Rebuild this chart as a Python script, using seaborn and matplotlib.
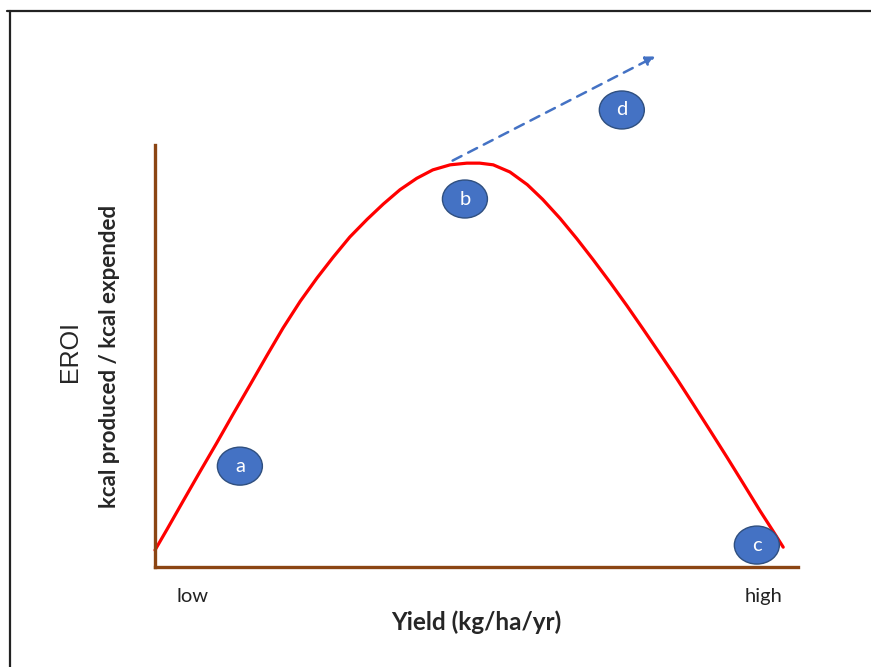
import numpy as np
import pandas as pd
import matplotlib
matplotlib.use('Agg')
import matplotlib.pyplot as plt
import seaborn as sns
from matplotlib.patches import Ellipse
from matplotlib.lines import Line2D

# curve (yield low -> high, EROI 0-100)
yield_pts = [0.0, 1.9, 4.4, 7.0, 9.6, 12.1, 14.8, 17.4, 19.9, 22.6, 25.2, 27.7,
             30.3, 33.0, 35.5, 38.1, 40.7, 43.2, 45.9, 48.5, 50.5, 52.6, 55.2,
             57.9, 60.3, 63.0, 65.6, 68.1, 70.8, 73.4, 75.9, 78.5, 81.2, 83.7,
             86.3, 89.0, 91.4, 94.1, 96.0, 97.7]
eroi_pts = [4.0, 9.0, 15.7, 22.6, 29.4, 36.1, 43.2, 50.1, 56.6, 63.0, 68.5, 73.4,
            78.2, 82.4, 86.0, 89.4, 92.1, 94.1, 95.3, 95.7, 95.7, 95.3, 93.6,
            90.6, 87.1, 82.6, 77.8, 72.9, 67.4, 61.9, 56.4, 50.6, 44.5, 38.6,
            32.4, 25.9, 20.0, 13.3, 8.8, 4.7]

# labelled points
point_labels = ['a', 'b', 'c', 'd']
point_x = [13.2, 48.2, 93.6, 72.6]
point_y = [23.9, 87.2, 5.2, 108.3]

# dashed trend arrow (start, end)
arrow_x = [45.9, 78.2]
arrow_y = [96.0, 121.3]

df = pd.DataFrame({'yield': yield_pts, 'eroi': eroi_pts})

sns.set_style('white')
plt.rcParams['font.family'] = ['Lato', 'DejaVu Sans']

fig = plt.figure(figsize=(8.71, 6.67), dpi=100)
ax = fig.add_axes([155 / 871, 100 / 667, 643 / 871, 422 / 667])

sns.lineplot(data=df, x='yield', y='eroi', color='#FF0000', linewidth=2.3, ax=ax,
             sort=False, clip_on=False, solid_joinstyle='round', solid_capstyle='round')

ax.annotate('', xy=(arrow_x[1], arrow_y[1]), xytext=(arrow_x[0], arrow_y[0]),
            arrowprops=dict(arrowstyle='-|>', color='#4472C4', lw=1.8,
                            linestyle=(0, (4, 3)), mutation_scale=14),
            annotation_clip=False)

for lab, px, py in zip(point_labels, point_x, point_y):
    e = Ellipse((px, py), width=7.0, height=9.0, facecolor='#4472C4',
                edgecolor='#2F4F7F', linewidth=1.0, clip_on=False, zorder=5)
    ax.add_patch(e)
    ax.text(px, py, lab, color='white', fontsize=14.5, ha='center', va='center',
            zorder=6, clip_on=False)

ax.set_xlim(0, 100)
ax.set_ylim(0, 100)
ax.set_xticks([])
ax.set_yticks([])
sns.despine(ax=ax)
for s in ['left', 'bottom']:
    ax.spines[s].set_color('#8B4513')
    ax.spines[s].set_linewidth(2.4)

ax.text(5.9, -7.0, 'low', fontsize=14.5, ha='center', va='center', color='#222222')
ax.text(94.7, -7.0, 'high', fontsize=14.5, ha='center', va='center', color='#222222')
ax.set_xlabel('Yield (kg/ha/yr)', fontsize=17.5, fontweight='bold', labelpad=31)
ax.set_ylabel('kcal produced / kcal expended', fontsize=16, fontweight='bold', labelpad=25)
fig.text(70 / 871, 1 - 352 / 667, 'EROI', fontsize=18, rotation=90,
         ha='center', va='center', family=['Liberation Sans', 'DejaVu Sans'])

# outer frame (top and left edges only)
fig.add_artist(Line2D([7 / 871, 1], [1 - 11 / 667, 1 - 11 / 667], color='#222222', lw=1.6))
fig.add_artist(Line2D([10 / 871, 10 / 871], [0, 1 - 11 / 667], color='#222222', lw=1.6))

fig.savefig('out.png', dpi=100)
